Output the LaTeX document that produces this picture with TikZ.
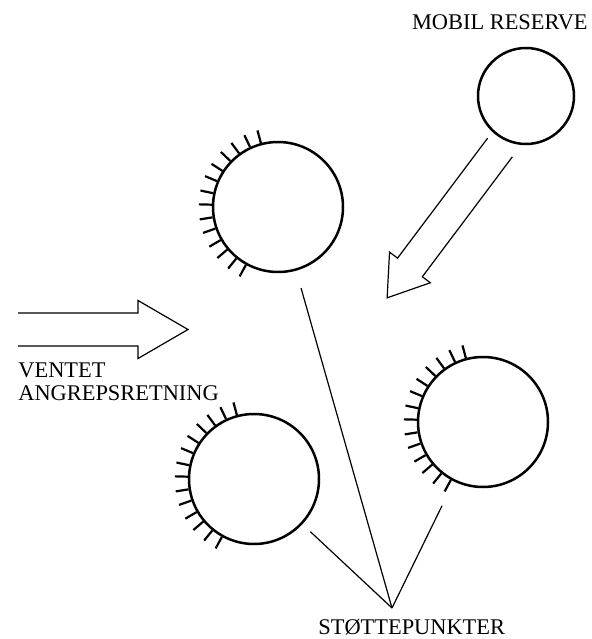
\documentclass[tikz,border=0pt]{standalone}
\usepackage{fontspec}
\setmainfont{Liberation Serif}
\usetikzlibrary{positioning}
\newcommand{\hollowarrow}[6]{% start, angle, length, shaft half width, head half width, head length
  \begin{scope}[shift={#1}, rotate=#2]
    \draw[outline] (0,#4) -- ({#3-#6},#4) -- ({#3-#6},#5) -- (#3,0)
      -- ({#3-#6},-#5) -- ({#3-#6},-#4) -- (0,-#4);
  \end{scope}}

\begin{document}
\begin{tikzpicture}[
    x=0.5pt, y=0.5pt,
    every node/.style={font=\fontsize{11.2}{11.8}\selectfont},
    post/.style={circle, draw, line width=1.25pt, minimum size=65pt, inner sep=0pt},
    reserve/.style={circle, draw, line width=1.25pt, minimum size=48pt, inner sep=0pt},
    tick/.style={line width=1.1pt},
    outline/.style={line width=0.6pt, line join=miter},
    lead/.style={line width=0.6pt}
]
  \useasboundingbox (0,0) rectangle (591,639);

  % strongpoints and the mobile reserve
  \node[reserve] (res) at (526,543) {};
  \node[post] (sp1) at (278,432) {};
  \node[post] (sp2) at (254,160) {};
  \node[post] (sp3) at (483,217) {};

  % ticks on the side facing the attack
  \foreach \p in {sp1,sp2,sp3}
    \foreach \i in {0,...,13}
      \draw[tick] (\p.{105+\i*10.5}) -- ++({105+\i*10.5}:13);

  % labels
  \node[anchor=base west] (restxt) at (405,609) {MOBIL RESERVE};
  \node[anchor=north west, align=left, inner sep=0pt] (dirtxt) at (18,277)
    {VENTET\\ANGREPSRETNING};
  \node[anchor=base west, inner sep=0pt] (sptxt) at (318,4) {STØTTEPUNKTER};

  % arrows
  \hollowarrow{(18,309.5)}{0}{170}{16.5}{29}{50}
  \hollowarrow{(500,491.5)}{233.1}{188}{15.5}{25.5}{38}

  % leaders to the label
  \coordinate (meet) at (392,31);
  \draw[lead, shorten <=9pt] (sp1) -- (meet);
  \draw[lead, shorten <=5.5pt] (sp2) -- (meet);
  \draw[lead, shorten <=13.5pt] (sp3) -- (meet);
\end{tikzpicture}
\end{document}
